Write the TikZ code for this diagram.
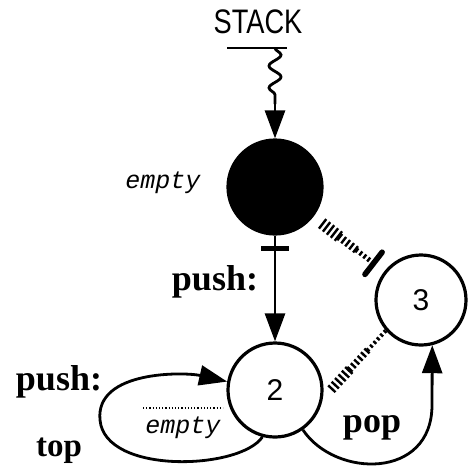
\documentclass[tikz,border=0pt]{standalone}
\usepackage{fontspec}
\setmainfont{Liberation Serif}
\setsansfont{Liberation Sans}
\setmonofont{Liberation Mono}
\usetikzlibrary{arrows.meta, calc, decorations.pathmorphing}

\begin{document}
\begin{tikzpicture}[
    x=0.5pt, y=-0.5pt,
    state/.style={circle, draw, line width=1.6pt, minimum size=47pt, inner sep=0pt, font=\sffamily\fontsize{15}{15}\selectfont},
    lab/.style={anchor=base, inner sep=0pt, font=\bfseries\fontsize{18}{18}\selectfont},
    cond/.style={anchor=base, inner sep=0pt, font=\ttfamily\itshape\fontsize{12.5}{12.5}\selectfont},
    arrow/.style={-{Triangle[length=14pt, width=10pt]}, line width=1.4pt},
    hatch/.style={dash pattern=on 1.2pt off 1.3pt}
]
\useasboundingbox (0,0) rectangle (470,467);
% stack head
\node[anchor=base, inner sep=0pt, font=\sffamily\fontsize{17}{17}\selectfont] (stack) at (258,33) {\scalebox{0.8}[1]{STACK}};
\coordinate (barL) at (227,48);
\coordinate (barR) at (287,48);
\coordinate (src) at (275,48);
\coordinate (wave) at (275,104);
\draw[line width=1.4pt] (barL) -- (barR);
% states
\node[state, fill=black] (empty) at (275,187) {};
\node[state] (n2) at (275,390) {2};
\node[state, minimum size=45pt] (n3) at (421,300) {3};
% labels
\node[cond] (emptylab) at (163,188) {empty};
\node[lab] (push1) at (215,290) {push:};
\node[lab] (push2) at (59,390) {push:};
\node[lab, font=\bfseries\fontsize{16.5}{16.5}\selectfont] (top) at (59,456) {top};
\node[lab] (pop) at (372,432) {pop};
\node[cond] (emptylab2) at (183,433) {empty};
\coordinate (dotL) at (143,408);
\coordinate (dotR) at (223,408);
\draw[densely dotted, line width=0.6pt] (dotL) -- (dotR);
% connectors
\draw[line width=1.4pt, decorate, decoration={snake, amplitude=3pt, segment length=11pt}] (src) -- (wave);
\draw[arrow] (wave) -- (empty);
\draw[arrow] (empty) -- (n2);
\draw[line width=2.6pt] ($(empty.south)+(-14,13)$) -- ($(empty.south)+(14,13)$);
\coordinate (loopL) at (100,420);
\draw[arrow] (n2.-105) .. controls (240,470) and (105,475) .. (loopL)
    .. controls (95,370) and (185,372) .. (n2.170);
\coordinate (popC) at (432,405);
\draw[arrow] (n2.-55) .. controls (335,478) and (432,480) .. (popC) -- (n3.-76);
% hatched links
\coordinate (h1a) at ($(empty)!29.5pt!(n3)$);
\coordinate (h1b) at ($(n3)!30pt!(empty)$);
\foreach \w/\s/\e in {6/0/0.34, 4/0.33/0.67, 2.5/0.66/1}
    \draw[hatch, line width=\w pt] ($(h1a)!\s!(h1b)$) -- ($(h1a)!\e!(h1b)$);
\draw[line width=2.8pt, line cap=round] ($(h1b)!7pt!90:(n3)$) -- ($(h1b)!7pt!-90:(n3)$);
\coordinate (h2a) at ($(n2.-10)!6pt!(n3.-139)$);
\coordinate (h2b) at (n3.-139);
\foreach \w/\s/\e in {5/0/0.34, 3.5/0.33/0.67, 2/0.66/1}
    \draw[hatch, line width=\w pt] ($(h2a)!\s!(h2b)$) -- ($(h2a)!\e!(h2b)$);
\end{tikzpicture}
\end{document}
